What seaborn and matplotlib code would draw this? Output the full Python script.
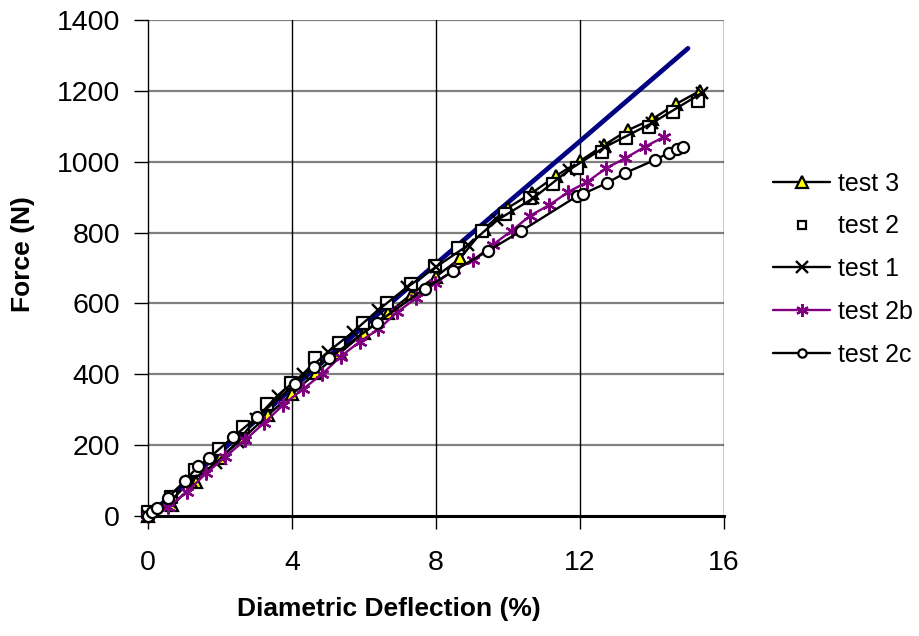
import matplotlib
matplotlib.use("Agg")
import matplotlib.pyplot as plt
import seaborn as sns
import pandas as pd
from matplotlib.lines import Line2D

# ---- data ----
model_x = [0, 4, 8, 12, 15]
model_f = [0, 360, 712, 1058, 1320]

t3_x = [0, 0.67, 1.33, 2.0, 2.67, 3.33, 4.0, 4.67, 5.33, 6.0, 6.67, 7.33, 8.0, 8.67,
        9.33, 10.0, 10.67, 11.33, 12.0, 12.67, 13.33, 14.0, 14.67, 15.33]
t3_f = [0, 30, 95, 165, 222, 285, 344, 405, 460, 517, 573, 627, 676, 727,
        810, 870, 912, 960, 1002, 1047, 1089, 1120, 1163, 1200]

t2_x = [0, 0.64, 1.31, 1.97, 2.64, 3.31, 3.97, 4.64, 5.31, 5.97, 6.64, 7.31, 7.97, 8.61,
        9.28, 9.92, 10.61, 11.25, 11.92, 12.6, 13.28, 13.92, 14.58, 15.28]
t2_f = [10, 55, 130, 190, 252, 315, 376, 446, 488, 545, 601, 655, 706, 756,
        804, 852, 897, 937, 982, 1027, 1067, 1098, 1140, 1171]

t1_x = [0, 0.6, 1.2, 1.9, 2.5, 3.0, 3.6, 4.3, 5.0, 5.7, 6.4, 7.2, 8.0, 8.9,
        9.7, 10.7, 11.7, 12.7, 14.0, 15.4]
t1_f = [0, 40, 100, 150, 210, 275, 340, 400, 463, 520, 582, 646, 703, 765,
        835, 897, 977, 1042, 1109, 1195]

t2b_x = [0, 0.55, 1.08, 1.62, 2.15, 2.69, 3.22, 3.75, 4.3, 4.83, 5.35, 5.88, 6.4, 6.93,
         7.45, 7.98, 8.5, 9.03, 9.57, 10.1, 10.62, 11.15, 11.68, 12.2, 12.73, 13.26,
         13.8, 14.33]
t2b_f = [0, 25, 68, 121, 167, 214, 262, 313, 358, 400, 450, 492, 527, 576,
         615, 657, 694, 722, 765, 805, 848, 878, 915, 943, 982, 1010, 1042, 1070]

t2c_x = [0, 0.1, 0.25, 0.56, 1.03, 1.39, 1.69, 2.36, 3.03, 4.08, 4.6, 5.03, 6.36,
         7.69, 8.47, 9.44, 10.36, 11.92, 12.08, 12.75, 13.25, 14.08, 14.47, 14.69, 14.86]
t2c_f = [0, 12, 22, 52, 100, 140, 163, 223, 279, 372, 420, 446, 545,
         642, 691, 748, 804, 903, 909, 940, 968, 1005, 1025, 1036, 1042]

x_ticks = [0, 4, 8, 12, 16]
y_ticks = [0, 200, 400, 600, 800, 1000, 1200, 1400]

sns.set_style("white")
plt.rcParams["font.family"] = ["Liberation Sans", "DejaVu Sans"]
plt.rcParams["text.color"] = "black"
plt.rcParams["axes.labelcolor"] = "black"
plt.rcParams["xtick.color"] = "black"
plt.rcParams["ytick.color"] = "black"

fig = plt.figure(figsize=(9.2, 6.36), dpi=100)
ax = fig.add_axes([148/920, 1-516/636, 576/920, 496/636])

ax.set_xlim(0, 16)
ax.set_ylim(0, 1400)
ax.set_xticks(x_ticks)
ax.set_yticks(y_ticks)

# gridlines
for yv in y_ticks[1:]:
    ax.axhline(yv, color="#808080", lw=1.6, zorder=0)
for xv in x_ticks[1:]:
    ax.axvline(xv, color="black", lw=1.0, zorder=0)

lw = 1.7
mew = 1.6
sns.lineplot(x=model_x, y=model_f, ax=ax, color="#000080", lw=3.4, sort=False,
             estimator=None, zorder=2)
sns.lineplot(x=t3_x, y=t3_f, ax=ax, color="black", lw=lw, sort=False, estimator=None,
             marker="^", markersize=8.5, markerfacecolor="#FFFF00",
             markeredgecolor="black", markeredgewidth=mew, zorder=3, clip_on=False)
sns.scatterplot(x=t2_x, y=t2_f, ax=ax, marker="s", s=64, facecolor="white",
                edgecolor="black", linewidth=mew, zorder=4, clip_on=False)
sns.lineplot(x=t1_x, y=t1_f, ax=ax, color="black", lw=lw, sort=False, estimator=None,
             marker="x", markersize=8, markeredgecolor="black",
             markeredgewidth=1.7, zorder=5, clip_on=False)
sns.lineplot(x=t2b_x, y=t2b_f, ax=ax, color="#800080", lw=lw, sort=False, estimator=None,
             marker=(6, 2, 0), markersize=10, markeredgecolor="#800080",
             markeredgewidth=1.7, zorder=6, clip_on=False)
sns.lineplot(x=t2c_x, y=t2c_f, ax=ax, color="black", lw=lw, sort=False, estimator=None,
             marker="o", markersize=8, markerfacecolor="white",
             markeredgecolor="black", markeredgewidth=mew, zorder=7, clip_on=False)

for s in ["top", "right"]:
    ax.spines[s].set_visible(False)
for s in ["left", "bottom"]:
    ax.spines[s].set_visible(True)
    ax.spines[s].set_color("black")
ax.spines["left"].set_linewidth(1.0)
ax.spines["bottom"].set_linewidth(2.2)
ax.spines["bottom"].set_zorder(2.5)

ax.tick_params(axis="y", direction="out", length=10, width=1, color="black",
               labelcolor="black", labelsize=20.5, pad=10, left=True)
ax.tick_params(axis="x", direction="out", length=9, width=1, color="black",
               labelcolor="black", labelsize=20.5, pad=15.5, bottom=True)

ax.set_xlabel("Diametric Deflection (%)", fontsize=19, fontweight="bold", color="black")
ax.set_ylabel("Force (N)", fontsize=19, fontweight="bold", color="black")
ax.xaxis.set_label_coords((388.5-148)/576, -0.164)
ax.yaxis.set_label_coords((35-148)/576, 0.528)

handles = [
    Line2D([], [], color="black", lw=lw, marker="^", markersize=8,
           markerfacecolor="#FFFF00", markeredgecolor="black", markeredgewidth=mew),
    Line2D([], [], color="none", lw=0, marker="s", markersize=6,
           markerfacecolor="white", markeredgecolor="black", markeredgewidth=mew),
    Line2D([], [], color="black", lw=lw, marker="x", markersize=8,
           markeredgecolor="black", markeredgewidth=1.7),
    Line2D([], [], color="#800080", lw=lw, marker=(6, 2, 0), markersize=9,
           markeredgecolor="#800080", markeredgewidth=1.7),
    Line2D([], [], color="black", lw=lw, marker="o", markersize=6,
           markerfacecolor="white", markeredgecolor="black", markeredgewidth=mew),
]
labels = ["test 3", "test 2", "test 1", "test 2b", "test 2c"]
if ax.get_legend() is not None:
    ax.get_legend().remove()
leg = fig.legend(handles, labels, loc="center left", bbox_to_anchor=(773/920, 1-269/636),
                 frameon=False, fontsize=18, borderpad=0, borderaxespad=0,
                 handlelength=2.3, handletextpad=0.3, labelspacing=0.75)
for t in leg.get_texts():
    t.set_color("black")

fig.savefig("out.png", dpi=100)
